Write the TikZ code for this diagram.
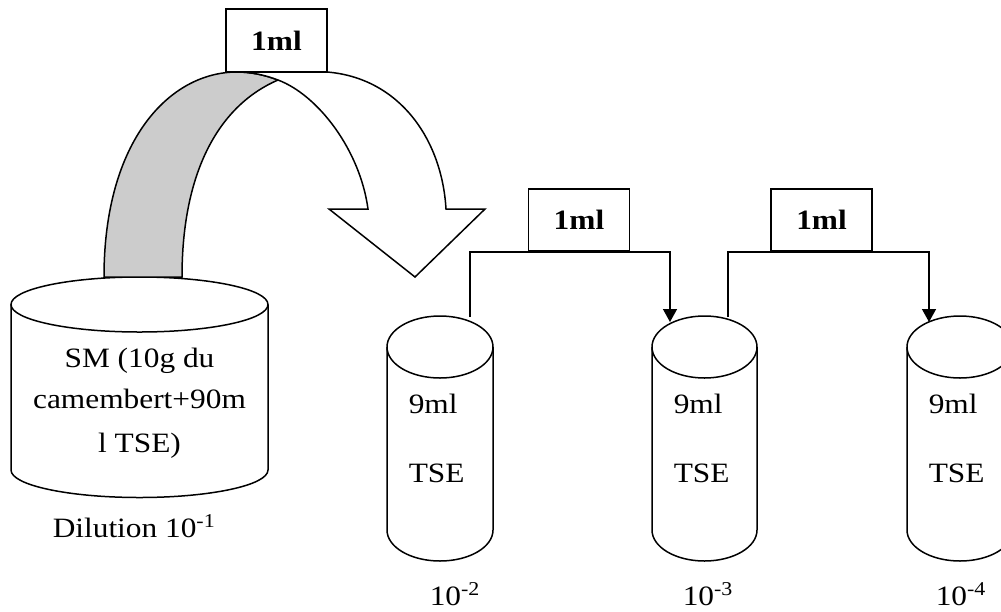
\documentclass[tikz,border=0pt]{standalone}
\usepackage{fontspec}
\setmainfont{Liberation Serif}[FakeStretch=1.12]
\usetikzlibrary{arrows.meta}
\newcommand{\mytube}[6]{% name, cx, topcy, botcy, rx, ry
  \draw (#2,#3) ellipse [x radius=#5, y radius=#6];
  \draw ({#2-#5},#3) -- ({#2-#5},#4)
    .. controls ({#2-#5},{#4+0.5523*#6}) and ({#2-0.5523*#5},{#4+#6}) .. (#2,{#4+#6})
    .. controls ({#2+0.5523*#5},{#4+#6}) and ({#2+#5},{#4+0.5523*#6}) .. ({#2+#5},#4)
    -- ({#2+#5},#3);
  \coordinate (#1) at (#2,#3);}
\begin{document}
\begin{tikzpicture}[x=1pt,y=-1pt,line width=1.5pt,
  txt/.style={font=\fontsize{28}{34}\selectfont,inner sep=0pt},
  mlbox/.style={draw,fill=white,font=\fontsize{28}{34}\selectfont\bfseries,inner sep=0pt,minimum height=62,minimum width=101},
  conn/.style={-{Triangle[width=14pt,length=13pt]}}]
\path[use as bounding box] (0,0) rectangle (1001,611);
\clip (0,0) rectangle (1001,611);
\fill[white] (0,0) rectangle (1001,611);
% big cylinder
\mytube{sm}{139.5}{304.5}{470}{128.5}{27.5}
% gray band (underside of the curved arrow)
\filldraw[fill=black!20] (104,277) .. controls (104,140) and (170,72) .. (237,72)
  .. controls (251,72) and (265,75) .. (278,80)
  .. controls (220,105) and (182,170) .. (182,277) -- cycle;
% white curved arrow
\filldraw[fill=white,line join=miter] (327,72) .. controls (400,78) and (442,140) .. (446,209)
  -- (485,209) -- (415,277) -- (329,209) -- (368,209)
  .. controls (360,150) and (318,95) .. (278,80)
  .. controls (265,75) and (251,72) .. (237,72) -- cycle;
\node[mlbox,minimum height=63] (b1) at (276.5,40.5) {1ml};
% SM text
\node[txt,anchor=base] (sm1) at (139.5,367) {SM (10g du};
\node[txt,anchor=base] (sm2) at (139.5,408) {camembert+90m};
\node[txt,anchor=base] (sm3) at (139.5,452) {l TSE)};
\node[txt,anchor=base west] (d1) at (52,537) {Dilution 10\textsuperscript{-1}};
% tubes
\mytube{t1}{440}{347}{530}{53}{31}
\mytube{t2}{704.5}{347}{530}{52.5}{31}
\mytube{t3}{960}{347}{530}{53}{31}
\foreach \n/\x in {1/408,2/673,3/928}{
  \node[txt,anchor=base west] (v\n) at (\x,413) {9ml};
  \node[txt,anchor=base west] (s\n) at (\x,482) {TSE};
}
\node[txt,anchor=base west] (l2) at (429,605) {10\textsuperscript{-2}};
\node[txt,anchor=base west] (l3) at (682,605) {10\textsuperscript{-3}};
\node[txt,anchor=base west] (l4) at (935,605) {10\textsuperscript{-4}};
% transfer boxes and connectors
\node[mlbox] (b2) at (579,220) {1ml};
\node[mlbox] (b3) at (821.5,220) {1ml};
\coordinate (c1s) at (470,317);
\coordinate (c1e) at (670,322);
\coordinate (c2s) at (728,317);
\coordinate (c2e) at (929,322);
\draw[conn] (c1s) |- (b2.south) -| (c1e);
\draw[conn] (c2s) |- (b3.south) -| (c2e);
\end{tikzpicture}
\end{document}
